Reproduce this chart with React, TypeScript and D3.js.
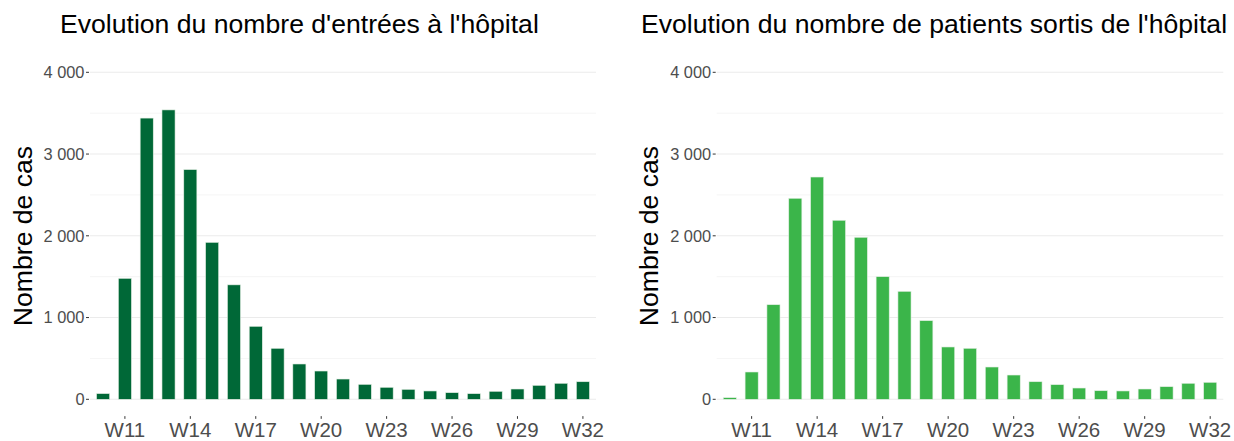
import React from "react";
import * as d3 from "d3";

const weeks = ["W10","W11","W12","W13","W14","W15","W16","W17","W18","W19","W20","W21","W22","W23","W24","W25","W26","W27","W28","W29","W30","W31","W32"];
const tickWeeks = ["W11","W14","W17","W20","W23","W26","W29","W32"];
const entrees = [70,1480,3440,3540,2810,1920,1400,893,624,432,346,248,183,147,122,102,81,69,98,126,171,196,215];
const sorties = [20,334,1157,2459,2719,2190,1982,1500,1321,962,640,624,395,297,215,179,138,105,102,126,154,196,208];
const yTicks = [0,1000,2000,3000,4000];
const yMinor = [500,1500,2500,3500];
const titles = ["Evolution du nombre d'entrées à l'hôpital", "Evolution du nombre de patients sortis de l'hôpital"];
const yTitle = "Nombre de cas";
const colors = ["#006837", "#3bb54a"];

const FONT = "'Liberation Sans', Arial, sans-serif";
const fmt = (v: number) => d3.format(",")(v).replace(/,/g, " ");

function Panel({ values, color, title, x0, x1, titleX, yTitleX }: { values: number[]; color: string; title: string; x0: number; x1: number; titleX: number; yTitleX: number }) {
  const y = d3.scaleLinear().domain([0, 4000]).range([399.3, 72.3]);
  const x = d3.scalePoint<string>().domain(weeks).range([x0, x1]).padding(0.6);
  const bw = x.step() * 0.6;
  const panelBottom = y(-200);
  return (
    <g>
      <text x={titleX} y={33} fontSize={26.6} fill="#000" fontFamily={FONT}>{title}</text>
      {yMinor.map((t) => (
        <line key={"m" + t} x1={x0} x2={x1} y1={y(t)} y2={y(t)} stroke="#f2f2f2" strokeWidth={0.8} />
      ))}
      {yTicks.map((t) => (
        <line key={"g" + t} x1={x0} x2={x1} y1={y(t)} y2={y(t)} stroke="#ebebeb" strokeWidth={1.1} />
      ))}
      {yTicks.map((t) => (
        <g key={"t" + t}>
          <line x1={x0 - 4} x2={x0 - 1} y1={y(t)} y2={y(t)} stroke="#333" strokeWidth={1} />
          <text x={x0 - 5.5} y={y(t)} dy="0.35em" textAnchor="end" fontSize={16.4} fill="#4d4d4d" fontFamily={FONT}>{fmt(t)}</text>
        </g>
      ))}
      {values.map((v, i) => (
        <rect key={weeks[i]} x={(x(weeks[i]) as number) - bw / 2} y={y(v)} width={bw} height={y(0) - y(v)} fill={color} stroke="#e4efe4" strokeWidth={0.6} />
      ))}
      {tickWeeks.map((w) => (
        <g key={w}>
          <line x1={x(w)} x2={x(w)} y1={panelBottom + 0.5} y2={panelBottom + 3.2} stroke="#333" strokeWidth={1} />
          <text x={x(w)} y={436.5} textAnchor="middle" fontSize={20.5} fill="#4d4d4d" fontFamily={FONT}>{w}</text>
        </g>
      ))}
      <text transform={`translate(${yTitleX},236) rotate(-90)`} textAnchor="middle" fontSize={26.6} fill="#000" fontFamily={FONT}>{yTitle}</text>
    </g>
  );
}

export default function App() {
  return (
    <svg width={1234} height={441} style={{ position: "absolute", left: 0, top: 0, background: "#fff" }}>
      <rect width={1234} height={441} fill="#fff" />
      <Panel values={entrees} color={colors[0]} title={titles[0]} x0={90} x1={596} titleX={60} yTitleX={31.5} />
      <Panel values={sorties} color={colors[1]} title={titles[1]} x0={716.7} x1={1223.3} titleX={641} yTitleX={658} />
    </svg>
  );
}
